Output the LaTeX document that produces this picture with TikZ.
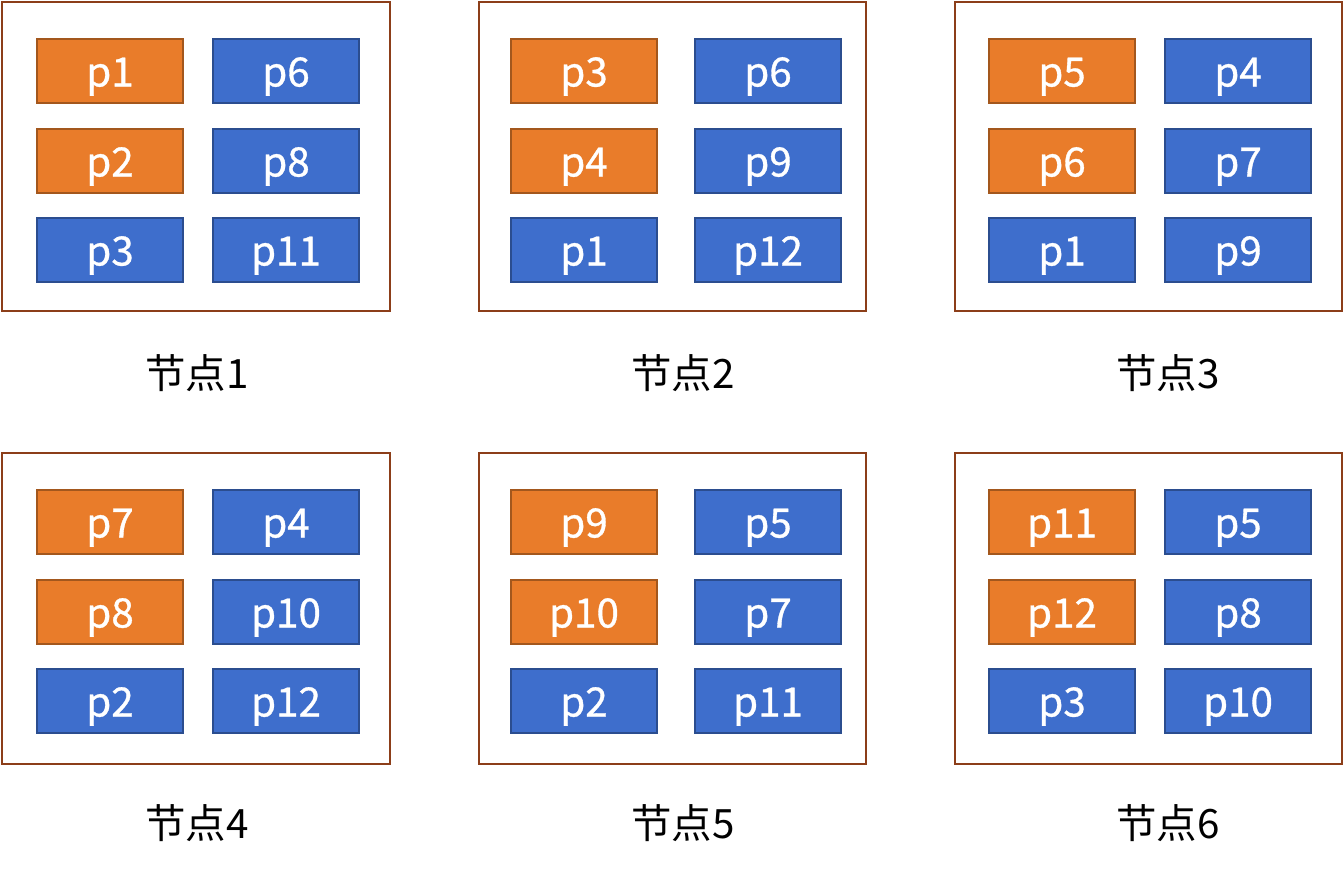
\documentclass[tikz,border=0pt]{standalone}
\usepackage{fontspec}
\setmainfont{Noto Sans CJK SC}
\newfontfamily\partfont{Noto Sans CJK SC}[FakeBold=0.8]
\usepackage{tikz}
\usetikzlibrary{positioning}

\definecolor{partorange}{RGB}{233,124,42}
\definecolor{partblue}{RGB}{62,110,204}
\definecolor{frameline}{RGB}{140,62,25}

\tikzset{
  frame/.style={draw=frameline,line width=1.2pt,fill=white},
  primary/.style={draw=partorange!70!black,line width=0.8pt,fill=partorange,text=white,
    minimum width=2.92cm,minimum height=1.28cm,inner sep=0pt,text height=0.62cm,text depth=0pt,
    font=\partfont\fontsize{23}{23}\selectfont},
  replica/.style={primary,draw=partblue!70!black,fill=partblue},
  nodelabel/.style={font=\fontsize{23}{23}\selectfont,text=black}
}

\begin{document}
\begin{tikzpicture}[x=0.02cm,y=-0.02cm]
		\useasboundingbox (0,0) rectangle (1344,876);
		% frames
		\coordinate (b1) at (2,2);
		\coordinate (b2) at (479,2);
		\coordinate (b3) at (955,2);
		\coordinate (b4) at (2,453);
		\coordinate (b5) at (479,453);
		\coordinate (b6) at (955,453);
		\draw[frame] (b1) rectangle ++(388,309);
		\draw[frame] (b2) rectangle ++(387,309);
		\draw[frame] (b3) rectangle ++(387,309);
		\draw[frame] (b4) rectangle ++(388,311);
		\draw[frame] (b5) rectangle ++(387,311);
		\draw[frame] (b6) rectangle ++(387,311);
		% node 1
		\node[primary] (n1a) at ([shift={(108,69)}]b1) {p1};
		\node[replica] (n1b) at ([shift={(284,69)}]b1) {p6};
		\node[primary] (n1c) at ([shift={(108,159)}]b1) {p2};
		\node[replica] (n1d) at ([shift={(284,159)}]b1) {p8};
		\node[replica] (n1e) at ([shift={(108,248)}]b1) {p3};
		\node[replica] (n1f) at ([shift={(284,248)}]b1) {p11};
		% node 2
		\node[primary] (n2a) at ([shift={(105,69)}]b2) {p3};
		\node[replica] (n2b) at ([shift={(289,69)}]b2) {p6};
		\node[primary] (n2c) at ([shift={(105,159)}]b2) {p4};
		\node[replica] (n2d) at ([shift={(289,159)}]b2) {p9};
		\node[replica] (n2e) at ([shift={(105,248)}]b2) {p1};
		\node[replica] (n2f) at ([shift={(289,248)}]b2) {p12};
		% node 3
		\node[primary] (n3a) at ([shift={(107,69)}]b3) {p5};
		\node[replica] (n3b) at ([shift={(283,69)}]b3) {p4};
		\node[primary] (n3c) at ([shift={(107,159)}]b3) {p6};
		\node[replica] (n3d) at ([shift={(283,159)}]b3) {p7};
		\node[replica] (n3e) at ([shift={(107,248)}]b3) {p1};
		\node[replica] (n3f) at ([shift={(283,248)}]b3) {p9};
		% node 4
		\node[primary] (n4a) at ([shift={(108,69)}]b4) {p7};
		\node[replica] (n4b) at ([shift={(284,69)}]b4) {p4};
		\node[primary] (n4c) at ([shift={(108,159)}]b4) {p8};
		\node[replica] (n4d) at ([shift={(284,159)}]b4) {p10};
		\node[replica] (n4e) at ([shift={(108,248)}]b4) {p2};
		\node[replica] (n4f) at ([shift={(284,248)}]b4) {p12};
		% node 5
		\node[primary] (n5a) at ([shift={(105,69)}]b5) {p9};
		\node[replica] (n5b) at ([shift={(289,69)}]b5) {p5};
		\node[primary] (n5c) at ([shift={(105,159)}]b5) {p10};
		\node[replica] (n5d) at ([shift={(289,159)}]b5) {p7};
		\node[replica] (n5e) at ([shift={(105,248)}]b5) {p2};
		\node[replica] (n5f) at ([shift={(289,248)}]b5) {p11};
		% node 6
		\node[primary] (n6a) at ([shift={(107,69)}]b6) {p11};
		\node[replica] (n6b) at ([shift={(283,69)}]b6) {p5};
		\node[primary] (n6c) at ([shift={(107,159)}]b6) {p12};
		\node[replica] (n6d) at ([shift={(283,159)}]b6) {p8};
		\node[replica] (n6e) at ([shift={(107,248)}]b6) {p3};
		\node[replica] (n6f) at ([shift={(283,248)}]b6) {p10};
		% labels
		\node[nodelabel] (l1) at (197,373) {节点1};
		\node[nodelabel] (l2) at (683,373) {节点2};
		\node[nodelabel] (l3) at (1168,373) {节点3};
		\node[nodelabel] (l4) at (197,823) {节点4};
		\node[nodelabel] (l5) at (683,823) {节点5};
		\node[nodelabel] (l6) at (1168,823) {节点6};
	\end{tikzpicture}
\end{document}
